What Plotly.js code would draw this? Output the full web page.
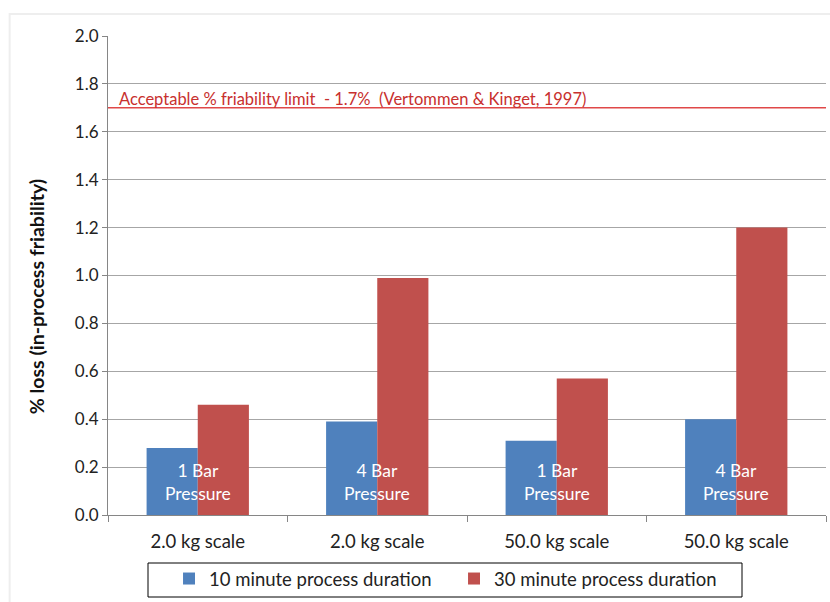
<!DOCTYPE html>
<html>
<head>
<meta charset="utf-8">
<script src="https://cdn.plot.ly/plotly-3.0.1.min.js"></script>
<style>html,body{margin:0;padding:0;background:#fff;}#chart{width:830px;height:602px;}</style>
</head>
<body>
<div id="chart"></div>
<script>
const scaleLabels = ["2.0 kg scale", "2.0 kg scale", "50.0 kg scale", "50.0 kg scale"];
const pressureLabels = ["1 Bar<br>Pressure", "4 Bar<br>Pressure", "1 Bar<br>Pressure", "4 Bar<br>Pressure"];
const positions = [0, 1, 2, 3];
const tenMinute = [0.28, 0.39, 0.31, 0.40];
const thirtyMinute = [0.46, 0.99, 0.57, 1.20];
const limitValue = 1.7;
const limitText = "Acceptable % friability limit  - 1.7%  (Vertommen & Kinget, 1997)";
const yTitle = "% loss (in-process friability)";
const yTicks = [0, 0.2, 0.4, 0.6, 0.8, 1.0, 1.2, 1.4, 1.6, 1.8, 2.0];
const boundaries = [-0.5, 0.5, 1.5, 2.5, 3.5];

const FONT = "Lato, 'Open Sans', sans-serif";

const traces = [
  {type: "bar", name: "10 minute process duration", x: positions, y: tenMinute,
   marker: {color: "#4F81BD"}, hoverinfo: "y"},
  {type: "bar", name: "30 minute process duration", x: positions, y: thirtyMinute,
   marker: {color: "#C0504D"}, hoverinfo: "y"}
];

const annotations = pressureLabels.map((t, i) => ({
  x: positions[i], y: 0.138, xref: "x", yref: "y", text: t, showarrow: false,
  font: {family: FONT, size: 17.5, color: "#ffffff"}, align: "center"
}));
annotations.push({
  x: 0.013, y: limitValue, xref: "paper", yref: "y", xanchor: "left", yanchor: "bottom",
  text: limitText, showarrow: false, yshift: -3,
  font: {family: FONT, size: 16.5, color: "#C8302E"}
});
annotations.push({
  x: -0.1, y: 0.455, xref: "paper", yref: "paper", xanchor: "center", yanchor: "middle",
  text: "<b>" + yTitle + "</b>", textangle: -90, showarrow: false,
  font: {family: FONT, size: 19.5, color: "#111"}
});

const layout = {
  width: 830, height: 602,
  margin: {l: 108, r: 4, t: 36, b: 87},
  paper_bgcolor: "#ffffff", plot_bgcolor: "#ffffff",
  font: {family: FONT, size: 17, color: "#333333"},
  barmode: "group", bargap: 0.43, bargroupgap: 0,
  showlegend: true,
  legend: {orientation: "h", x: 0.085, xanchor: "left", xref: "paper",
    y: 1 - 579 / 602, yanchor: "middle", yref: "container",
    borderwidth: 0, bgcolor: "rgba(0,0,0,0)", font: {family: FONT, size: 18.5, color: "#222"},
    itemsizing: "constant", traceorder: "normal", entrywidth: 240},
  xaxis: {
    range: [-0.5, 3.5], tickmode: "array", tickvals: positions, ticktext: scaleLabels,
    ticks: "", showgrid: false, zeroline: false, showline: true, linecolor: "#868686", linewidth: 1,
    tickfont: {family: FONT, size: 18.5, color: "#222"}, ticklabelstandoff: 10,
    minor: {tickmode: "array", tickvals: boundaries, ticks: "outside", ticklen: 6, tickcolor: "#868686", showgrid: false},
    fixedrange: true
  },
  yaxis: {
    range: [0, 2.0], tickmode: "array", tickvals: yTicks, tickformat: ".1f",
    ticks: "outside", ticklen: 5, tickcolor: "#868686",
    showgrid: true, gridcolor: "#a6a6a6", gridwidth: 1,
    zeroline: false, showline: true, linecolor: "#868686", linewidth: 1,
    tickfont: {family: FONT, size: 17, color: "#222"},
    fixedrange: true
  },
  shapes: [
    {type: "line", xref: "paper", yref: "y", x0: 0, x1: 1, y0: limitValue, y1: limitValue,
     line: {color: "#E04848", width: 1.5}},
    {type: "rect", xref: "paper", yref: "paper", x0: -0.137, x1: 1.01, y0: -0.2, y1: 1.046,
     line: {color: "#eeeeee", width: 2}, layer: "below"},
    {type: "rect", xref: "paper", yref: "paper",
     x0: (148 - 108) / 718, x1: (742 - 108) / 718, y0: -(597 - 515) / 479, y1: -(563 - 515) / 479,
     line: {color: "#000000", width: 1}}
  ],
  annotations: annotations
};

Plotly.newPlot("chart", traces, layout, {displayModeBar: false, staticPlot: true});
</script>
</body>
</html>
